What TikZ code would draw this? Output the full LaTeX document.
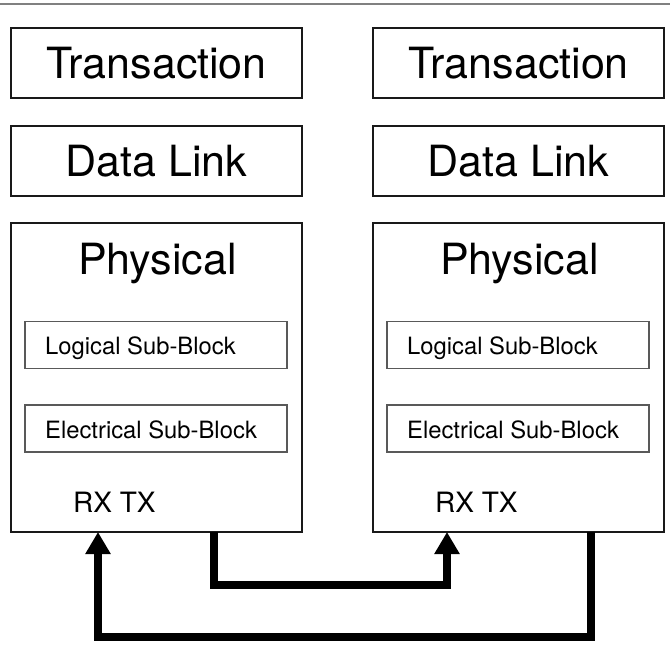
\documentclass[tikz,border=0pt]{standalone}
\usepackage{fontspec}
\setmainfont{TeX Gyre Heros}
\usetikzlibrary{arrows.meta,calc}
\begin{document}
\begin{tikzpicture}[x=1pt,y=-1pt,
  layerbox/.style={draw=black!90,line width=2pt,minimum width=291pt,minimum height=70pt,inner sep=0pt,font=\fontsize{43}{50}\selectfont},
  physbox/.style={draw=black!90,line width=2pt,minimum width=291pt,minimum height=309pt,inner sep=0pt},
  bigtext/.style={inner sep=0pt,font=\fontsize{43}{50}\selectfont},
  subbox/.style={draw=black!65,line width=1.5pt,minimum width=262pt,minimum height=47pt,inner sep=0pt},
  subtext/.style={inner sep=0pt,anchor=west,font=\fontsize{23.8}{28}\selectfont},
  rxtext/.style={inner sep=0pt,anchor=west,font=\fontsize{28}{32}\selectfont},
  link/.style={line width=8pt,line join=miter,-{Triangle[width=24pt,length=22pt]}}
]
\useasboundingbox (0,0) rectangle (670,645);
\draw[black!50,line width=2pt] (0,4) -- (670,4);

% left stack
\node[layerbox] (tl) at (156.5,63) {Transaction};
\node[layerbox] (dl) at (156.5,161) {Data Link};
\node[physbox] (pl) at (156.5,377.5) {};
\node[bigtext] (plt) at (157.5,264) {Physical};
\node[subbox] (lsl) at (156,345) {};
\node[subtext] (lslt) at (45,348) {Logical Sub-Block};
\node[subbox] (esl) at (156,428.5) {};
\node[subtext] (eslt) at (45,430) {Electrical Sub-Block};
\node[rxtext] (rxl) at (73,502) {RX TX};

% right stack
\node[layerbox] (tr) at (518.5,63) {Transaction};
\node[layerbox] (dr) at (518.5,161) {Data Link};
\node[physbox] (pr) at (518.5,377.5) {};
\node[bigtext] (prt) at (519.5,264) {Physical};
\node[subbox] (lsr) at (518,345) {};
\node[subtext] (lsrt) at (407,348) {Logical Sub-Block};
\node[subbox] (esr) at (518,428.5) {};
\node[subtext] (esrt) at (407,430) {Electrical Sub-Block};
\node[rxtext] (rxr) at (435,502) {RX TX};

% connectors
\coordinate (txl) at (214,532);
\coordinate (rxin) at (447,532);
\coordinate (txr) at (591,532);
\coordinate (rxout) at (98,532);
\draw[link] (txl) -- (214,585) -- (447,585) -- (rxin);
\draw[link] (txr) -- (591,637) -- (98,637) -- (rxout);
\end{tikzpicture}
\end{document}
